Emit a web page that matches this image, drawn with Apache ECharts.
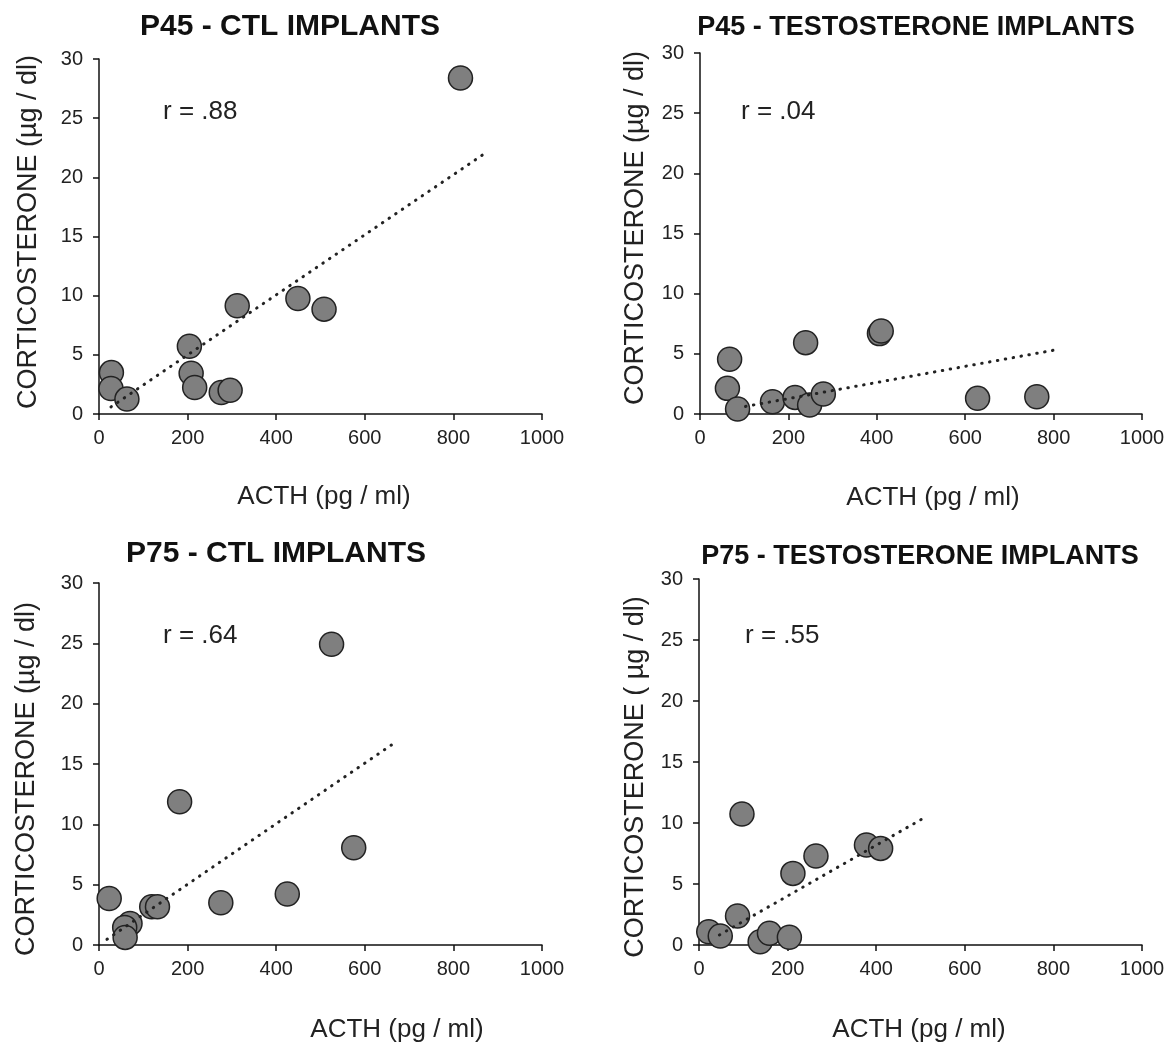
<!DOCTYPE html>
<html>
<head>
<meta charset="utf-8">
<script src="https://cdn.jsdelivr.net/npm/echarts@6/dist/echarts.min.js"></script>
<style>
  html, body { margin: 0; padding: 0; background: #fff; }
  #chart { width: 1170px; height: 1049px; }
</style>
</head>
<body>
<div id="chart"></div>
<script>
// ACTH (pg/ml) vs corticosterone (µg/dl), four groups
const p45CtlActh = [816, 28, 27, 63, 204, 208, 216, 276, 296, 312, 449, 508];
const p45CtlCort = [28.4, 3.5, 2.15, 1.26, 5.73, 3.44, 2.24, 1.82, 2.0, 9.14, 9.76, 8.86];
const p45CtlTrendActh = [27, 866];
const p45CtlTrendCort = [0.6, 21.9];

const p45TestoActh = [67, 62, 85, 164, 215, 239, 248, 279, 406, 410, 628, 762];
const p45TestoCort = [4.55, 2.13, 0.41, 1.02, 1.38, 5.93, 0.75, 1.66, 6.68, 6.9, 1.3, 1.44];
const p45TestoTrendActh = [103, 812];
const p45TestoTrendCort = [0.63, 5.38];

const p75CtlActh = [525, 182, 575, 23, 425, 275, 119, 132, 70, 58, 59];
const p75CtlCort = [24.92, 11.87, 8.06, 3.86, 4.22, 3.5, 3.17, 3.17, 1.79, 1.46, 0.63];
const p75CtlTrendActh = [18, 665];
const p75CtlTrendCort = [0.47, 16.7];

const p75TestoActh = [97, 264, 378, 410, 212, 87, 22, 48, 138, 159, 204];
const p75TestoCort = [10.74, 7.3, 8.2, 7.92, 5.87, 2.38, 1.09, 0.74, 0.27, 0.96, 0.63];
const p75TestoTrendActh = [46, 502];
const p75TestoTrendCort = [0.82, 10.3];

const xTicks = { min: 0, max: 1000, interval: 200 };
const yTicks = { min: 0, max: 30, interval: 5 };

const titles = ['P45 - CTL IMPLANTS', 'P45 - TESTOSTERONE IMPLANTS', 'P75 - CTL IMPLANTS', 'P75 - TESTOSTERONE IMPLANTS'];
const rLabels = ['r = .88', 'r = .04', 'r = .64', 'r = .55'];
const xName = 'ACTH (pg / ml)';
const yNames = ['CORTICOSTERONE (µg / dl)', 'CORTICOSTERONE (µg / dl)', 'CORTICOSTERONE (µg / dl)', 'CORTICOSTERONE ( µg / dl)'];

const FONT = "'Liberation Sans', Arial, sans-serif";

const panels = [
  { acth: p45CtlActh, cort: p45CtlCort, tA: p45CtlTrendActh, tC: p45CtlTrendCort,
    grid: { left: 99, top: 59, width: 443, height: 355 },
    title: [290, 27, 30], xn: [324, 497], yn: [29, 232], r: [163, 112] },
  { acth: p45TestoActh, cort: p45TestoCort, tA: p45TestoTrendActh, tC: p45TestoTrendCort,
    grid: { left: 700, top: 53, width: 442, height: 361 },
    title: [916, 28, 27], xn: [933, 498], yn: [636, 228], r: [741, 112] },
  { acth: p75CtlActh, cort: p75CtlCort, tA: p75CtlTrendActh, tC: p75CtlTrendCort,
    grid: { left: 99, top: 583, width: 443, height: 362 },
    title: [276, 554, 30], xn: [397, 1030], yn: [27, 779], r: [163, 636] },
  { acth: p75TestoActh, cort: p75TestoCort, tA: p75TestoTrendActh, tC: p75TestoTrendCort,
    grid: { left: 699, top: 579, width: 443, height: 366 },
    title: [920, 557, 27], xn: [919, 1030], yn: [636, 777], r: [745, 636] }
];

const axisCommon = {
  axisLine: { show: true, onZero: false, lineStyle: { color: '#111', width: 1.5 } },
  axisTick: { show: true, inside: false, length: 6, lineStyle: { color: '#111', width: 1.5 } },
  splitLine: { show: false },
  axisLabel: { color: '#222', fontSize: 20, fontFamily: FONT, formatter: v => String(v) }
};

const option = {
  backgroundColor: '#fff',
  animation: false,
  grid: panels.map(p => Object.assign({ containLabel: false }, p.grid)),
  xAxis: panels.map((p, i) => Object.assign({}, axisCommon, {
    type: 'value', gridIndex: i, min: xTicks.min, max: xTicks.max, interval: xTicks.interval,
    axisLabel: Object.assign({}, axisCommon.axisLabel, { margin: 14 })
  })),
  yAxis: panels.map((p, i) => Object.assign({}, axisCommon, {
    type: 'value', gridIndex: i, min: yTicks.min, max: yTicks.max, interval: yTicks.interval,
    axisLabel: Object.assign({}, axisCommon.axisLabel, { margin: 16 })
  })),
  series: [],
  graphic: []
};

panels.forEach((p, i) => {
  // fitted regression line, round dots
  option.series.push({
    type: 'line', xAxisIndex: i, yAxisIndex: i,
    data: p.tA.map((x, k) => [x, p.tC[k]]),
    symbol: 'none', silent: true, z: 3,
    lineStyle: { color: '#222', width: 3, type: [0.5, 7.5], cap: 'round' }
  });
  // individual animals
  option.series.push({
    type: 'scatter', xAxisIndex: i, yAxisIndex: i,
    data: p.acth.map((x, k) => [x, p.cort[k]]),
    symbol: 'circle', symbolSize: 24, z: 2,
    itemStyle: { color: '#7f7f7f', borderColor: '#222', borderWidth: 1.5, opacity: 1 }
  });
  option.graphic.push(
    { type: 'text', x: p.title[0], y: p.title[1],
      style: { text: titles[i], font: `bold ${p.title[2]}px ${FONT}`, fill: '#111', align: 'center', verticalAlign: 'middle' } },
    { type: 'text', x: p.xn[0], y: p.xn[1],
      style: { text: xName, font: `26px ${FONT}`, fill: '#222', align: 'center', verticalAlign: 'middle' } },
    { type: 'text', x: p.yn[0], y: p.yn[1], rotation: Math.PI / 2,
      style: { text: yNames[i], font: `27px ${FONT}`, fill: '#222', align: 'center', verticalAlign: 'middle' } },
    { type: 'text', x: p.r[0], y: p.r[1],
      style: { text: rLabels[i], font: `26px ${FONT}`, fill: '#222', align: 'left', verticalAlign: 'middle' } }
  );
});

const chart = echarts.init(document.getElementById('chart'), null, { renderer: 'canvas' });
chart.setOption(option);
</script>
</body>
</html>
